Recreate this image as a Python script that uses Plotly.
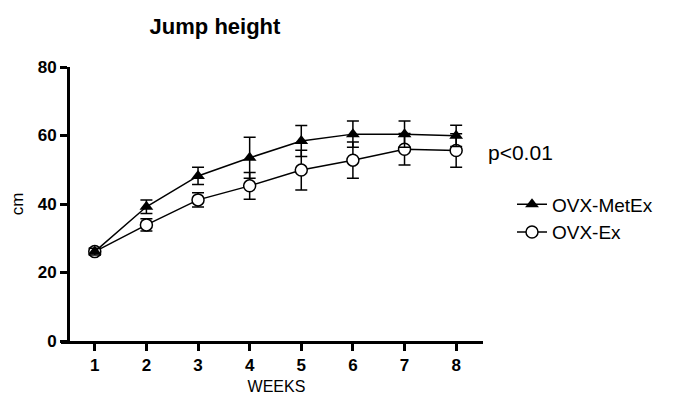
import plotly.graph_objects as go

weeks = [1, 2, 3, 4, 5, 6, 7, 8]
metex_mean = [26.1, 39.2, 48.2, 53.5, 58.4, 60.4, 60.4, 59.9]
metex_err = [1.0, 2.0, 2.5, 6.0, 4.5, 3.8, 3.8, 3.1]
ex_mean = [26.1, 33.9, 41.2, 45.3, 49.9, 52.8, 56.0, 55.6]
ex_err = [1.0, 1.8, 2.1, 3.9, 5.8, 5.3, 4.6, 4.9]
y_ticks = [0, 20, 40, 60, 80]

FONT = "Liberation Sans, Arial, sans-serif"
OFF = 8  # page body margin offset

fig = go.Figure()
fig.add_trace(go.Scatter(
    x=weeks, y=ex_mean, name="OVX-Ex", mode="lines+markers",
    line=dict(color="black", width=1.5),
    marker=dict(symbol="circle", size=12, color="white", line=dict(color="black", width=1.5)),
    error_y=dict(type="data", array=ex_err, visible=True, color="black", thickness=1.5, width=6),
))
fig.add_trace(go.Scatter(
    x=weeks, y=metex_mean, name="OVX-MetEx", mode="lines+markers",
    line=dict(color="black", width=1.5),
    marker=dict(symbol="triangle-up", size=12, color="black"),
    error_y=dict(type="data", array=metex_err, visible=True, color="black", thickness=1.5, width=6),
))

PL, PR, PT, PB = 70 - OFF, 483 - OFF, 67 - OFF, 341 - OFF
PW, PH = PR - PL, PB - PT

fig.update_layout(
    width=673, height=399, autosize=False,
    margin=dict(l=PL, r=673 - PR, t=PT, b=399 - PB, autoexpand=False),
    paper_bgcolor="white", plot_bgcolor="white",
    font=dict(family=FONT, color="black"),
    title=dict(text="<b>Jump height</b>", x=(215 - OFF)/673, xanchor="center", y=1-(26 - OFF)/399, yanchor="middle",
               font=dict(size=22, family=FONT, color="black")),
    legend=dict(x=(512 - OFF - PL)/PW, y=(PB - (218.5 - OFF))/PH, yanchor="middle", xanchor="left",
                traceorder="reversed", font=dict(size=19), itemwidth=30, tracegroupgap=0,
                bgcolor="rgba(0,0,0,0)"),
    showlegend=True,
)
fig.update_xaxes(
    range=[0.52, 8.52], tickvals=weeks, ticktext=[f"<b>{w}</b>" for w in weeks],
    showline=True, linecolor="black", linewidth=3, ticks="outside", ticklen=7, tickwidth=3, tickcolor="black",
    showgrid=False, zeroline=False, tickfont=dict(size=17),
    title=dict(text="WEEKS", font=dict(size=16), standoff=7),
)
fig.update_yaxes(
    range=[0, 80], tickvals=y_ticks, ticktext=[f"<b>{t}</b>" for t in y_ticks],
    showline=True, linecolor="black", linewidth=3, ticks="outside", ticklen=7, tickwidth=3, tickcolor="black",
    showgrid=False, zeroline=False, tickfont=dict(size=17),
    title=dict(text="cm", font=dict(size=17), standoff=18),
)
fig.add_annotation(text="p<0.01", xref="paper", yref="paper", x=(486 - OFF - PL)/PW, y=(PB - (152 - OFF))/PH,
                   xanchor="left", yanchor="middle",
                   showarrow=False, font=dict(size=21, family=FONT, color="black"))
# x-axis line extends slightly left of the y axis
fig.add_shape(type="line", xref="paper", yref="paper", x0=-9/PW, x1=0, y0=-1.5/PH, y1=-1.5/PH,
              line=dict(color="black", width=3))

fig.write_html("out.html")
